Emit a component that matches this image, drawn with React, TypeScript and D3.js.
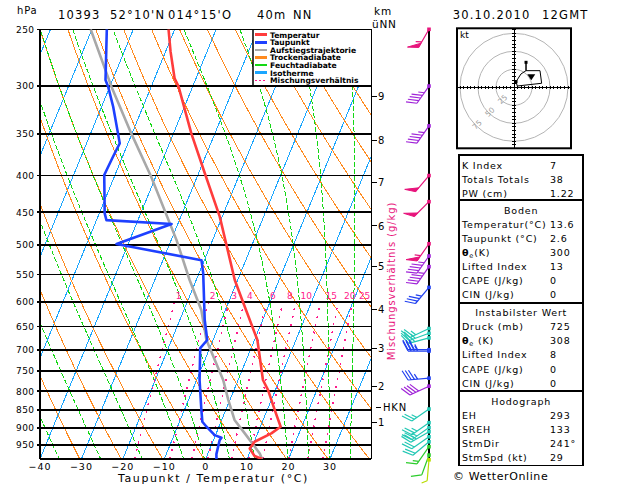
import React from "react";
import * as d3 from "d3";

// ---------- data ----------
const pressureLevels = [250, 300, 350, 400, 450, 500, 550, 600, 650, 700, 750, 800, 850, 900, 950];
const tempTicks = [-40, -30, -20, -10, 0, 10, 20, 30];
const isothermTemps = [-130, -120, -110, -100, -90, -80, -70, -60, -50, -40, -30, -20, -10, 0, 10, 20, 30, 40];
const dryAdiabatT0 = [-40, -30, -20, -10, 0, 10, 20, 30, 40, 50, 60, 70, 80, 90, 100, 110, 120, 130, 140];
const moistAdiabatT0 = [-35, -25, -15, -5, 0, 6, 12, 20, 25, 30, 35];
const mixingRatios = [1, 2, 3, 4, 6, 8, 10, 15, 20, 25];

const tempP = [250, 268.6, 292.6, 300.6, 349.3, 397, 456.4, 559.5, 592.8, 678.5, 771.5, 796.6, 849.5, 896.5, 915.8, 940.8, 961.8, 985, 994.5];
const tempT = [-51.5, -48.8, -45.2, -43.4, -35.7, -28.5, -20.6, -10.7, -7.3, 0.7, 6.0, 8.2, 11.8, 14.9, 13.3, 10.1, 9.6, 11.5, 13.6];

const dewP = [250, 294.2, 300.6, 320.6, 349.3, 360.6, 376.5, 399.3, 451.6, 461.6, 467.3, 498.4, 525, 547.3, 636.2, 678.5, 696.2, 771.5, 849.5, 882.2, 896.5, 921, 928.8, 936.3, 979, 994.5];
const dewT = [-66.4, -61.7, -60.4, -57.2, -53.4, -52.0, -52.3, -52.6, -48.7, -47.6, -31.5, -42.8, -20.7, -19.0, -14.0, -11.4, -12.3, -9.3, -5.9, -4.5, -3.0, -0.2, 1.7, 1.5, 2.1, 2.6];

const parcelP = [250, 300.6, 349.3, 401.5, 492.2, 559.5, 616.2, 678.5, 771.5, 822.5, 877.3, 915.8, 976.9, 994.5];
const parcelT = [-70.3, -59.6, -50.2, -41.1, -28.7, -21.6, -15.8, -11.6, -3.6, -0.4, 3.1, 6.9, 12.5, 13.6];

const kmLabels = ["1", "2", "3", "4", "5", "6", "7", "8", "9"];
const kmPressure = [885, 787, 697, 615, 536, 470, 409, 357, 310];
const hknPressure = 842;

const barbP = [250, 300, 341, 400, 435, 498, 518, 536, 573, 654, 664, 674, 700, 703, 767, 787, 847, 885, 899, 911, 926, 941, 956, 982, 997];
const barbDir = [210, 215, 215, 220, 225, 215, 215, 215, 220, 245, 250, 255, 270, 270, 265, 245, 235, 235, 235, 240, 235, 230, 215, 200, 185];
const barbSpd = [55, 45, 45, 50, 50, 55, 45, 45, 35, 25, 25, 25, 35, 35, 35, 40, 25, 25, 25, 25, 20, 20, 15, 10, 5];

const hodoU = [4.6, 2.8, 9.7, 16.7, 16.7, 16.7, 36.1, 38.4, 4.6];
const hodoV = [1.8, 7.8, 18.5, 23.1, 34.7, 23.1, 23.1, 5.6, 1.8];
const hodoRings = [25, 50, 75];
const stormUV = [24, 14];

const legendNames = ["Temperatur", "Taupunkt", "Aufstiegstrajektorie", "Trockenadiabate", "Feuchtadiabate", "Isotherme", "Mischungsverhältnis"];

const indexLabels = ["K Index", "Totals Totals", "PW (cm)"];
const indexValues = ["7", "38", "1.22"];
const bodenLabels = ["Temperatur(°C)", "Taupunkt (°C)", "THETA", "Lifted Index", "CAPE (J/kg)", "CIN (J/kg)"];
const bodenValues = ["13.6", "2.6", "300", "13", "0", "0"];
const instLabels = ["Druck (mb)", "THETA2", "Lifted Index", "CAPE (J/kg)", "CIN (J/kg)"];
const instValues = ["725", "308", "8", "0", "0"];
const hodoLabels = ["EH", "SREH", "StmDir", "StmSpd (kt)"];
const hodoValues = ["293", "133", "241°", "29"];

// ---------- styles ----------
const C_TEMP = "#ff3c3c";
const C_DEW = "#1e40ff";
const C_PARCEL = "#a8a8a8";
const C_DRY = "#ff8a1e";
const C_MOIST = "#14d814";
const C_ISO = "#1aa6ff";
const C_MIX = "#ff1a8c";
const legendColors = [C_TEMP, C_DEW, C_PARCEL, C_DRY, C_MOIST, C_ISO, C_MIX];
const FONT = "DejaVu Sans, Verdana, sans-serif";

const Rd = 287.04, Cp = 1005.7, Lv = 2.501e6, EPS = 0.622;
const esat = (Tc: number) => 6.112 * Math.exp((17.67 * Tc) / (Tc + 243.5));
const moistLapse = (p: number, Tk: number) => {
  const e = esat(Tk - 273.15);
  const rs = (EPS * e) / (p - e);
  return ((Rd * Tk + Lv * rs) / p) / (Cp + (Lv * Lv * rs * EPS) / (Rd * Tk * Tk));
};

function barbColor(s: number) {
  if (s >= 50) return "#e8147c";
  if (s >= 40) return "#a024d8";
  if (s >= 30) return "#2040f0";
  if (s >= 20) return "#22c8b4";
  if (s >= 10) return "#2ccc2c";
  return "#b8dc00";
}

export default function App() {
  const plotL = 40, plotR = 371.4, plotT = 29.3, plotB = 459;
  const yScale = d3.scaleLog().domain([250, 1000]).range([plotT, plotT + 311.2 * Math.log(4)]);
  const pBottom = yScale.invert(plotB);
  const xScale = d3.scaleLinear().domain([-40, 40]).range([plotL, plotR]);
  const skew = 0.41;
  const sx = (T: number, p: number) => xScale(T) + skew * (plotB - yScale(p));
  const line = d3
    .line<[number, number]>()
    .x((d) => sx(d[1], d[0]))
    .y((d) => yScale(d[0]));

  const pSamples = (pTop: number, step: number) => {
    const out: number[] = [];
    for (let p = pBottom; p > pTop; p -= step) out.push(p);
    out.push(pTop);
    return out;
  };

  const isoPaths = isothermTemps.map((T) => line([[pBottom, T], [250, T]]) as string);
  const dryPaths = dryAdiabatT0.map((T0) =>
    line(pSamples(250, 5).map((p) => [p, (T0 + 273.15) * Math.pow(p / 1000, Rd / Cp) - 273.15] as [number, number])) as string
  );
  const moistPaths = moistAdiabatT0.map((T0) => {
    let p = 1000, T = T0 + 273.15;
    const pts: [number, number][] = [[p, T0]];
    const dp = -4;
    while (p > 250) {
      const k1 = moistLapse(p, T);
      const k2 = moistLapse(p + dp / 2, T + (k1 * dp) / 2);
      T += k2 * dp;
      p += dp;
      pts.push([p, T - 273.15]);
    }
    return line(pts) as string;
  });
  const mixT = (w: number, p: number) => {
    const e = (w * p) / (622 + w);
    const l = Math.log(e / 6.112);
    return (243.5 * l) / (17.67 - l);
  };
  const mixPaths = mixingRatios.map((w) => line(pSamples(600, 10).map((p) => [p, mixT(w, p)] as [number, number])) as string);

  const tempPath = line(tempP.map((p, i) => [p, tempT[i]] as [number, number])) as string;
  const dewPath = line(dewP.map((p, i) => [p, dewT[i]] as [number, number])) as string;
  const parcelPath = line(parcelP.map((p, i) => [p, parcelT[i]] as [number, number])) as string;

  // wind barbs
  const barbX = 429;
  const barbs = barbP.map((p, i) => {
    const x0 = barbX, y0 = yScale(p);
    const dir = (barbDir[i] * Math.PI) / 180;
    const ux = Math.sin(dir), uy = -Math.cos(dir);
    const L = 21, fl = 11, sp = 3.2;
    const ex = x0 + ux * L, ey = y0 + uy * L;
    const a = Math.atan2(uy, ux) + (62 * Math.PI) / 180;
    const fx = Math.cos(a), fy = Math.sin(a);
    let rem = Math.round(barbSpd[i] / 5) * 5;
    let pos = 0;
    let d = `M${x0},${y0}L${ex},${ey}`;
    let tri = "";
    while (rem >= 50) {
      const bx = ex - ux * pos, by = ey - uy * pos;
      const cx = ex - ux * (pos + 5), cy = ey - uy * (pos + 5);
      tri += `M${bx},${by}L${bx + fx * fl},${by + fy * fl}L${cx},${cy}Z`;
      pos += 6.5;
      rem -= 50;
    }
    while (rem >= 10) {
      const bx = ex - ux * pos, by = ey - uy * pos;
      d += `M${bx},${by}L${bx + fx * fl},${by + fy * fl}`;
      pos += sp;
      rem -= 10;
    }
    if (rem >= 5) {
      const bx = ex - ux * pos, by = ey - uy * pos;
      d += `M${bx},${by}L${bx + fx * fl * 0.55},${by + fy * fl * 0.55}`;
    }
    return { x0, y0, d, tri, color: barbColor(barbSpd[i]) };
  });

  // hodograph
  const hbL = 457, hbT = 28.3, hbW = 114, hbH = 120;
  const hcx = 514, hcy = 87.3;
  const hr = d3.scaleLinear().domain([0, 100]).range([0, 72]);
  const hodoPts = hodoU.map((u, i) => [hcx + hr(u), hcy - hr(hodoV[i])] as [number, number]);
  const hodoLine = d3.line<[number, number]>()(hodoPts) as string;
  const hTicksX: number[] = [];
  const hTicksY: number[] = [];
  for (let k = -80; k <= 80; k += 5) {
    const px = hcx + hr(k);
    if (k !== 0 && px > hbL + 1 && px < hbL + hbW - 1) hTicksX.push(px);
    const py = hcy + hr(k);
    if (k !== 0 && py > hbT + 1 && py < hbT + hbH - 1) hTicksY.push(py);
  }
  const stX = hcx + hr(stormUV[0]), stY = hcy - hr(stormUV[1]);

  // table
  const tL = 459, tR = 583.3, labX = 462, valX = 550, step = 14.1;
  type Sec = { title: string | null; labels: string[]; values: string[] };
  const secs: Sec[] = [
    { title: null, labels: indexLabels, values: indexValues },
    { title: "Boden", labels: bodenLabels, values: bodenValues },
    { title: "Instabilster Wert", labels: instLabels, values: instValues },
    { title: "Hodograph", labels: hodoLabels, values: hodoValues },
  ];
  let top = 155;
  const secLayout = secs.map((s) => {
    const start = top + (s.title ? 24 : 10);
    const bottom = start + (s.labels.length - 1) * step + (s.title ? 8 : 7);
    const lay = { ...s, top, start, bottom };
    top = bottom;
    return lay;
  });

  const renderLabel = (lab: string) => {
    if (lab === "THETA")
      return (
        <>
          <tspan fontWeight="bold">θ</tspan>
          <tspan fontSize="6.5" dy="2">e</tspan>
          <tspan dy="-2">(K)</tspan>
        </>
      );
    if (lab === "THETA2")
      return (
        <>
          <tspan fontWeight="bold">θ</tspan>
          <tspan fontSize="6.5" dy="2">e</tspan>
          <tspan dy="-2"> (K)</tspan>
        </>
      );
    return lab;
  };

  return (
    <svg
      width={629}
      height={486}
      style={{ position: "absolute", left: 0, top: 0, background: "#fff" }}
      fontFamily={FONT}
    >
      <rect x={0} y={0} width={629} height={486} fill="#fff" />
      <defs>
        <clipPath id="plotClip">
          <rect x={plotL} y={plotT} width={plotR - plotL} height={plotB - plotT} />
        </clipPath>
        <clipPath id="hodoClip">
          <rect x={hbL} y={hbT} width={hbW} height={hbH} />
        </clipPath>
      </defs>

      {/* header */}
      <text x={17} y={14} fontSize={10} letterSpacing={0.8}>hPa</text>
      <g fontSize={11.5} letterSpacing={1.2}>
        <text x={58} y={19}>10393</text>
        <text x={110} y={19}>52°10'N</text>
        <text x={168} y={19}>014°15'O</text>
        <text x={257} y={19}>40m</text>
        <text x={293} y={19}>NN</text>
        <text x={452.7} y={19}>30.10.2010</text>
        <text x={542} y={19}>12GMT</text>
      </g>

      {/* background lines */}
      <g clipPath="url(#plotClip)" fill="none" shapeRendering="crispEdges">
        {isoPaths.map((d, i) => (
          <path key={"i" + i} d={d} stroke={C_ISO} strokeWidth={1} />
        ))}
        {dryPaths.map((d, i) => (
          <path key={"d" + i} d={d} stroke={C_DRY} strokeWidth={1} />
        ))}
        {moistPaths.map((d, i) => (
          <path key={"m" + i} d={d} stroke={C_MOIST} strokeWidth={1} strokeDasharray="5,2" />
        ))}
        {mixPaths.map((d, i) => (
          <path key={"x" + i} d={d} stroke={C_MIX} strokeWidth={1.5} strokeDasharray="2,6" />
        ))}
      </g>

      {/* mixing ratio labels */}
      <g fontSize={9} fill={C_MIX}>
        {mixingRatios.map((w, i) => (
          <text key={w} x={sx(mixT(w, 600), 600) + 1 + i * 0.6} y={299} textAnchor="start">
            {w}
          </text>
        ))}
      </g>

      {/* legend */}
      <rect x={253} y={plotT} width={plotR - 253} height={yScale(300) - plotT} fill="#fff" />
      <line x1={253} x2={253} y1={plotT} y2={yScale(300)} stroke="#000" strokeWidth={1.5} />
      {legendNames.map((n, i) => {
        const cy = 34.7 + i * 7.6;
        return (
          <g key={n}>
            <line
              x1={255}
              x2={267}
              y1={cy}
              y2={cy}
              stroke={legendColors[i]}
              strokeWidth={i === 6 ? 1.5 : 2.5}
              strokeDasharray={i === 6 ? "2,2" : undefined}
              shapeRendering="crispEdges"
            />
            <text x={270} y={cy + 2.8} fontSize={7.6} fontWeight="bold">
              {n}
            </text>
          </g>
        );
      })}

      {/* pressure lines */}
      <g shapeRendering="crispEdges">
        {pressureLevels.map((p) => (
          <line key={p} x1={37} x2={plotR} y1={yScale(p)} y2={yScale(p)} stroke="#000" strokeWidth={1.6} />
        ))}
        <line x1={plotL} x2={plotL} y1={plotT} y2={plotB} stroke="#000" strokeWidth={2} />
        <line x1={plotR} x2={plotR} y1={plotT} y2={plotB} stroke="#000" strokeWidth={1.6} />
        <line x1={plotL} x2={plotR} y1={plotB} y2={plotB} stroke="#000" strokeWidth={2} />
      </g>
      <g fontSize={9} textAnchor="end" letterSpacing={0.4}>
        {pressureLevels.map((p) => (
          <text key={p} x={34.5} y={yScale(p) + 3.3}>
            {p}
          </text>
        ))}
      </g>

      {/* profiles */}
      <g fill="none" clipPath="url(#plotClip)" strokeLinejoin="round">
        <path d={parcelPath} stroke={C_PARCEL} strokeWidth={2.6} />
        <path d={dewPath} stroke={C_DEW} strokeWidth={2.6} />
        <path d={tempPath} stroke={C_TEMP} strokeWidth={2.6} />
      </g>

      {/* x axis */}
      <g fontSize={9.5} textAnchor="middle" letterSpacing={1}>
        {tempTicks.map((t) => (
          <text key={t} x={xScale(t)} y={469.5}>
            {t < 0 ? "\u2212" + Math.abs(t) : t}
          </text>
        ))}
      </g>
      <text x={213.5} y={482} fontSize={11} textAnchor="middle" letterSpacing={1.6}>
        Taupunkt / Temperatur (°C)
      </text>

      {/* km axis */}
      <text x={374} y={15} fontSize={10.5} letterSpacing={0.8}>km</text>
      <text x={372} y={28} fontSize={10.5} letterSpacing={0.8}>üNN</text>
      <g shapeRendering="crispEdges">
        {kmPressure.map((p, i) => (
          <line key={i} x1={plotR} x2={376.5} y1={yScale(p)} y2={yScale(p)} stroke="#000" strokeWidth={1.3} />
        ))}
        <line x1={375.5} x2={381} y1={yScale(hknPressure)} y2={yScale(hknPressure)} stroke="#000" strokeWidth={1.3} />
      </g>
      <g fontSize={10}>
        {kmLabels.map((k, i) => (
          <text key={k} x={378} y={yScale(kmPressure[i]) + 3.8}>
            {k}
          </text>
        ))}
        <text x={383} y={yScale(hknPressure) + 3.8} letterSpacing={0.8}>HKN</text>
      </g>
      <text
        transform="translate(395,281) rotate(-90)"
        fontSize={10}
        textAnchor="middle"
        fill="#e8147c"
        letterSpacing={0.9}
      >
        Mischungsverhältnis (g/kg)
      </text>

      {/* wind barbs */}
      <line x1={barbX} x2={barbX} y1={plotT} y2={plotB} stroke="#000" strokeWidth={1.5} shapeRendering="crispEdges" />
      {barbs.map((b, i) => (
        <g key={i}>
          <path d={b.d} stroke={b.color} strokeWidth={1.2} fill="none" />
          {b.tri && <path d={b.tri} fill={b.color} stroke={b.color} strokeWidth={1} />}
          <rect x={b.x0 - 1.8} y={b.y0 - 1.8} width={3.6} height={3.6} fill={b.color} />
        </g>
      ))}

      {/* hodograph */}
      <g>
        <rect x={hbL} y={hbT} width={hbW} height={hbH} fill="#fff" />
        <g clipPath="url(#hodoClip)" fill="none" stroke="#b4b4b4" strokeWidth={1}>
          {hodoRings.map((r) => (
            <circle key={r} cx={hcx} cy={hcy} r={hr(r)} />
          ))}
        </g>
        <g fontSize={7.5} fill="#a0a0a0" textAnchor="middle">
          {hodoRings.map((r) => {
            const px = hcx - hr(r) * 0.707 + 1;
            const py = hcy + hr(r) * 0.707 - 1;
            return (
              <text key={r} transform={`translate(${px},${py}) rotate(-45)`} dy={3}>
                {r}
              </text>
            );
          })}
        </g>
        <g stroke="#000" strokeWidth={1} shapeRendering="crispEdges">
          <line x1={hbL} x2={hbL + hbW} y1={hcy} y2={hcy} />
          <line x1={hcx} x2={hcx} y1={hbT} y2={hbT + hbH} />
          {hTicksX.map((x, i) => (
            <line key={"tx" + i} x1={x} x2={x} y1={hcy - 1.6} y2={hcy + 1.6} />
          ))}
          {hTicksY.map((y, i) => (
            <line key={"ty" + i} x1={hcx - 1.6} x2={hcx + 1.6} y1={y} y2={y} />
          ))}
        </g>
        <path d={hodoLine} fill="none" stroke="#000" strokeWidth={1} />
        {hodoPts.map((p, i) =>
          i === 1 || i === 4 ? <rect key={i} x={p[0] - 1.5} y={p[1] - 1.5} width={3} height={3} fill="#000" /> : null
        )}
        <path d={`M${stX - 4},${stY - 3}L${stX + 4},${stY - 3}L${stX},${stY + 3}Z`} fill="#000" />
        <rect x={hbL} y={hbT} width={hbW} height={hbH} fill="none" stroke="#000" strokeWidth={2} />
        <text x={460} y={38} fontSize={9}>kt</text>
      </g>

      {/* table */}
      <g fontSize={9.5} letterSpacing={0.8}>
        {secLayout.map((s, si) => (
          <g key={si}>
            <rect x={tL} y={s.top} width={tR - tL} height={s.bottom - s.top} fill="none" stroke="#000" strokeWidth={1.6} shapeRendering="crispEdges" />
            {s.title && (
              <text x={(tL + tR) / 2} y={s.top + 10 + 3.5} textAnchor="middle">
                {s.title}
              </text>
            )}
            {s.labels.map((lab, ri) => (
              <g key={ri}>
                <text x={labX} y={s.start + ri * step + 3.5}>
                  {renderLabel(lab)}
                </text>
                <text x={valX} y={s.start + ri * step + 3.5}>
                  {s.values[ri]}
                </text>
              </g>
            ))}
          </g>
        ))}
      </g>
      <text x={453} y={480} fontSize={11} letterSpacing={0.6}>© WetterOnline</text>
    </svg>
  );
}
